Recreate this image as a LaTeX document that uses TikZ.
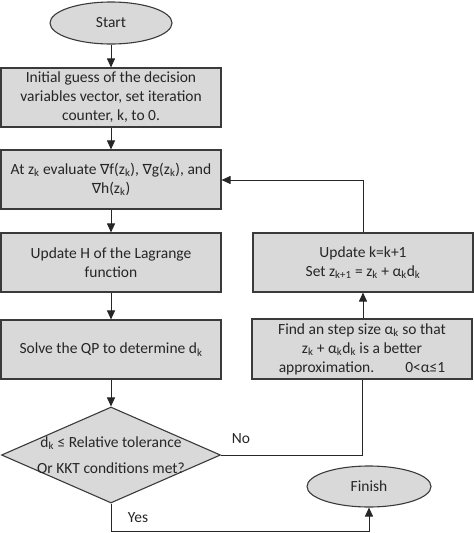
\documentclass[tikz,border=0pt]{standalone}
\usepackage{fontspec}
\setmainfont{Carlito}
\newfontfamily\symfam{DejaVu Sans}
\usetikzlibrary{shapes.geometric,arrows.meta}
\definecolor{boxfill}{HTML}{D9D9D9}
\definecolor{boxline}{HTML}{3A3A3A}
\definecolor{conline}{HTML}{262626}
\newcommand{\sbk}[1]{\textsubscript{#1}}
\newcommand{\nab}{{\symfam\fontsize{14}{19}\selectfont ∇}}
\begin{document}
\begin{tikzpicture}[x=1pt,y=-1pt,
  every node/.style={font=\fontsize{15.5}{19}\selectfont, text=black!85},
  procbox/.style={draw=boxline, fill=boxfill, line width=1.1pt, rectangle, minimum width=220pt, minimum height=59pt, align=center, inner sep=2pt},
  termbox/.style={draw=boxline, fill=boxfill, line width=1.1pt, ellipse, minimum width=122pt, minimum height=42pt, inner sep=0pt},
  decbox/.style={draw=boxline, fill=boxfill, line width=1.1pt, diamond, minimum width=219pt, minimum height=96pt, inner sep=0pt},
  conn/.style={draw=conline, line width=1pt},
  arr/.style={conn, -{Triangle[width=8pt,length=9pt]}},
  lbl/.style={inner sep=0pt}
]
\useasboundingbox (0,0) rectangle (474,533);
\node[termbox] (start) at (111,23) {Start};
\node[procbox] (b1) at (111,97.5) {Initial guess of the decision\\variables vector, set iteration\\counter, k, to 0.};
\node[procbox] (b2) at (111,179.5) {At z\sbk{k} evaluate \nab f(z\sbk{k}), \nab g(z\sbk{k}), and\\\nab h(z\sbk{k})};
\node[procbox] (b3) at (111,262.5) {Update H of the Lagrange\\function};
\node[procbox] (b4) at (111,349.5) {Solve the QP to determine d\sbk{k}};
\node[decbox] (dec) at (111,455) {};
\node[lbl, align=center, font=\fontsize{15.5}{26}\selectfont] (dect) at (111,455) {d\sbk{k} ≤ Relative tolerance\\Or KKT conditions met?};
\node[procbox, minimum width=220pt] (upd) at (363,262.5) {Update k=k+1\\Set z\sbk{k+1} = z\sbk{k} + α\sbk{k}d\sbk{k}};
\node[procbox, minimum width=220pt, minimum height=60pt] (find) at (362,349) {Find an step size α\sbk{k} so that\\z\sbk{k} + α\sbk{k}d\sbk{k} is a better\\approximation.\hspace{2em}0<α≤1};
\node[termbox, minimum width=124pt, minimum height=41pt] (fin) at (369,486.5) {Finish};
\node[lbl] (no) at (241,439) {No};
\node[lbl] (yes) at (138,518) {Yes};
\coordinate (c1) at (363,180);
\coordinate (c2) at (111,531.5);
\coordinate (c3) at (369,531.5);
\coordinate (c4) at (362,455);

\draw[arr] (start) -- (b1);
\draw[arr] (b1) -- (b2);
\draw[arr] (b2) -- (b3);
\draw[arr] (b3) -- (b4);
\draw[arr] (b4) -- (dec);
\draw[conn] (dec.east) -- (c4) -- (find.south -| c4);
\draw[arr] (find.north -| upd) -- (upd.south);
\draw[arr] (upd.north) -- (c1) -- (b2.east |- c1);
\draw[arr] (dec.south) -- (c2) -- (c3) -- (fin.south);
\end{tikzpicture}
\end{document}
